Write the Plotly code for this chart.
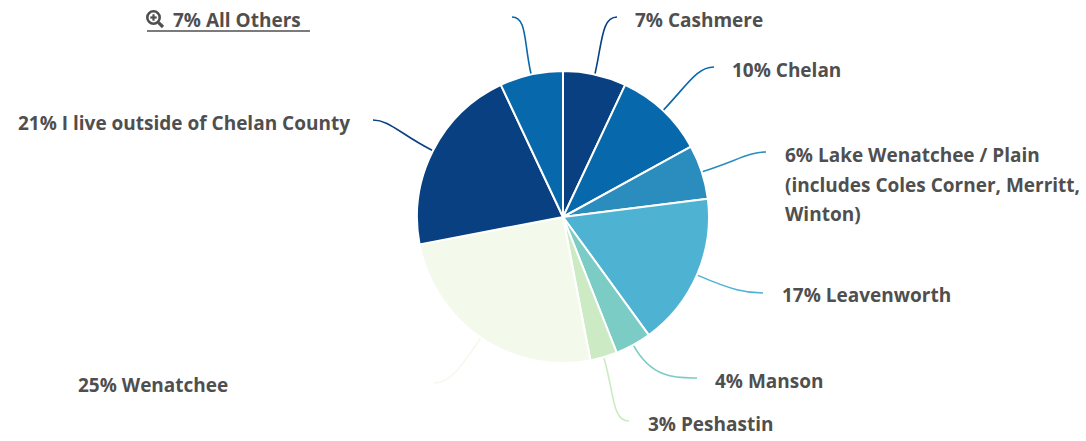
import math
import plotly.graph_objects as go

W, H = 1086, 441

# Survey responses by community, clockwise from 12 o'clock
categories = [
    "Cashmere",
    "Chelan",
    "Lake Wenatchee / Plain (includes Coles Corner, Merritt, Winton)",
    "Leavenworth",
    "Manson",
    "Peshastin",
    "Wenatchee",
    "I live outside of Chelan County",
    "All Others",
]
percents = [7, 10, 6, 17, 4, 3, 25, 21, 7]
label_lines = [
    ["7% Cashmere"],
    ["10% Chelan"],
    ["6% Lake Wenatchee / Plain", "(includes Coles Corner, Merritt,", "Winton)"],
    ["17% Leavenworth"],
    ["4% Manson"],
    ["3% Peshastin"],
    ["25% Wenatchee"],
    ["21% I live outside of Chelan County"],
    ["7% All Others"],
]

colors = ["#084081", "#0868ac", "#2b8cbe", "#4eb3d3", "#7bccc4",
          "#ccebc5", "#f3faec", "#084081", "#0868ac"]

# Pie geometry in pixels
CX, CY, R = 563, 217, 146

# Connector end point and label anchor (pixels), side of label
label_layout = [
    dict(end=(617, 17), text=(633, 20), side="left"),
    dict(end=(714, 67), text=(730, 70), side="left"),
    dict(end=(766, 152), text=(783, 155), side="left"),
    dict(end=(763, 293), text=(780, 295), side="left"),
    dict(end=(697, 378), text=(713, 381), side="left"),
    dict(end=(629, 421), text=(646, 424), side="left"),
    dict(end=(434, 383), text=(230, 385), side="right"),
    dict(end=(373, 120), text=(352, 123), side="right"),
    dict(end=(512, 17), text=(171, 20), side="left"),
]

TEXT_COLOR = "#4f4f4f"
FONT = "Open Sans"


def px(x, y):
    return x / W, 1 - y / H


fig = go.Figure()
fig.add_trace(go.Pie(
    labels=categories,
    values=percents,
    sort=False,
    direction="clockwise",
    rotation=0,
    marker=dict(colors=colors, line=dict(color="white", width=2)),
    textinfo="none",
    hoverinfo="label+percent",
    showlegend=False,
    domain=dict(x=[(CX - R) / W, (CX + R) / W],
                y=[1 - (CY + R) / H, 1 - (CY - R) / H]),
))

shapes = []
annotations = []
total = sum(percents)
cum = 0
for i, v in enumerate(percents):
    mid = (cum + v / 2) / total * 2 * math.pi
    cum += v
    ux, uy = math.sin(mid), -math.cos(mid)
    sx, sy = CX + (R + 1) * ux, CY + (R + 1) * uy
    ex, ey = label_layout[i]["end"]
    dist = math.hypot(ex - sx, ey - sy)
    hdir = 1 if ex > sx else -1
    c1x, c1y = sx + ux * dist * 0.55, sy + uy * dist * 0.55
    c2x, c2y = ex - hdir * dist * 0.25, ey
    pts = [px(sx, sy), px(c1x, c1y), px(c2x, c2y), px(ex, ey)]
    path = "M {:.5f} {:.5f} C {:.5f} {:.5f} {:.5f} {:.5f} {:.5f} {:.5f}".format(
        *[c for p in pts for c in p])
    shapes.append(dict(type="path", path=path, xref="paper", yref="paper",
                       line=dict(color=colors[i], width=1.6)))

    tx, ty = label_layout[i]["text"]
    for j, line in enumerate(label_lines[i]):
        x, y = px(tx, ty + j * 29.5)
        annotations.append(dict(
            text=line, x=x, y=y, xref="paper", yref="paper",
            xanchor=label_layout[i]["side"], yanchor="middle", showarrow=False,
            font=dict(family=FONT, size=19, color=TEXT_COLOR, weight=700)))

# Zoom icon and underline for the grouped "All Others" label
icx, icy, ir = 153.5, 17.5, 6.2
x0, y0 = px(icx - ir, icy - ir)
x1, y1 = px(icx + ir, icy + ir)
shapes.append(dict(type="circle", xref="paper", yref="paper",
                   x0=x0, y0=y1, x1=x1, y1=y0,
                   line=dict(color=TEXT_COLOR, width=2.6)))
for (a, b, w) in [((icx - 3.2, icy), (icx + 3.2, icy), 2.2),
                  ((icx, icy - 3.2), (icx, icy + 3.2), 2.2),
                  ((icx + 4.8, icy + 4.8), (icx + 9.5, icy + 9.5), 3.2)]:
    ax, ay = px(*a)
    bx, by = px(*b)
    shapes.append(dict(type="line", xref="paper", yref="paper",
                       x0=ax, y0=ay, x1=bx, y1=by,
                       line=dict(color=TEXT_COLOR, width=w)))
ux0, uy0 = px(147, 31)
ux1, _ = px(310, 31)
shapes.append(dict(type="line", xref="paper", yref="paper",
                   x0=ux0, y0=uy0, x1=ux1, y1=uy0,
                   line=dict(color=TEXT_COLOR, width=1.5)))

fig.update_layout(
    width=W, height=H,
    margin=dict(l=0, r=0, t=0, b=0),
    paper_bgcolor="white",
    plot_bgcolor="white",
    shapes=shapes,
    annotations=annotations,
)

fig.write_html("out.html")
